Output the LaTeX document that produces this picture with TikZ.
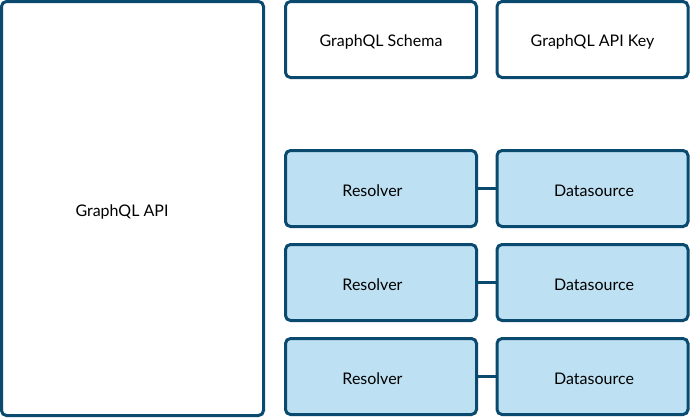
\documentclass[tikz,border=0pt]{standalone}
\usepackage{fontspec}
\setmainfont{Lato}
\definecolor{bordure}{HTML}{0B4A6F}
\definecolor{remplissage}{HTML}{BDE0F3}
\tikzset{
    boite/.style={draw=bordure, line width=3pt, rounded corners=5pt, fill=white,
        minimum width=191pt, minimum height=76pt, inner sep=0pt},
    bleue/.style={boite, fill=remplissage},
    texte/.style={font=\fontsize{16}{18}\selectfont, inner sep=0pt, yshift=-2pt},
    lien/.style={draw=bordure, line width=3pt}
}
\begin{document}
\begin{tikzpicture}[x=1pt,y=-1pt]
    \useasboundingbox (0,0) rectangle (690,418);

    % Boite principale de l'API
    \node[boite, minimum width=262pt, minimum height=414pt,
        label={[texte, xshift=-10.5pt, yshift=-1pt]center:GraphQL API}] (api) at (132.5,208.5) {};

    % Schema et cle
    \node[boite, label={[texte]center:GraphQL Schema}] (schema) at (381,39.5) {};
    \node[boite, label={[texte]center:GraphQL API Key}] (cle) at (592.5,39.5) {};

    % Resolvers et datasources
    \foreach \i/\y in {1/188.5, 2/282.5, 3/376.5} {
        \node[bleue, label={[texte, xshift=-8.5pt]center:Resolver}] (res\i) at (381,\y) {};
        \node[bleue, label={[texte, xshift=1.5pt]center:Datasource}] (ds\i) at (592.5,\y) {};
        \draw[lien] (res\i) -- (ds\i);
    }
\end{tikzpicture}
\end{document}
